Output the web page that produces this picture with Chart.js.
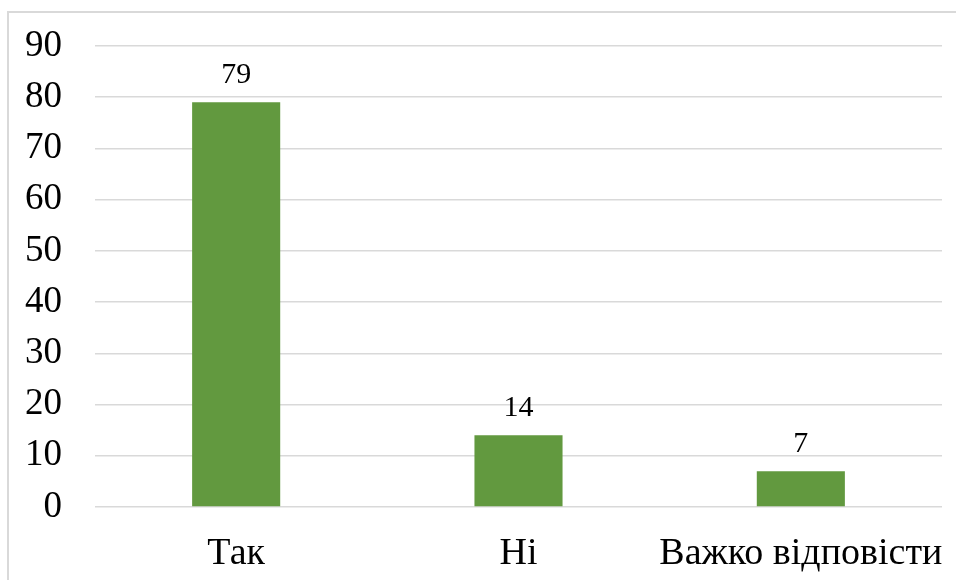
<!DOCTYPE html>
<html>
<head>
<meta charset="utf-8">
<script src="https://cdn.jsdelivr.net/npm/chart.js@4"></script>
<style>
  html, body { margin: 0; padding: 0; background: #ffffff; }
  #wrap { width: 956px; height: 580px; position: relative; }
</style>
</head>
<body>
<div id="wrap"><canvas id="chart" width="956" height="580"></canvas></div>
<script>
// Answers and their shares
const categories = ['Так', 'Ні', 'Важко відповісти'];
const values = [79, 14, 7];
const yTicks = [0, 10, 20, 30, 40, 50, 60, 70, 80, 90];

const FONT = "'Liberation Serif', 'Times New Roman', serif";
const BAR_COLOR = '#62993f';
const GRID_COLOR = '#d9d9d9';

// Light frame on the top and left edge of the canvas
const framePlugin = {
  id: 'frame',
  beforeDraw(chart) {
    const ctx = chart.ctx;
    ctx.save();
    ctx.strokeStyle = '#d9d9d9';
    ctx.lineWidth = 2;
    ctx.beginPath();
    ctx.moveTo(8, chart.height);
    ctx.lineTo(8, 12);
    ctx.lineTo(chart.width, 12);
    ctx.stroke();
    ctx.restore();
  }
};

// Value labels above each bar
const valueLabels = {
  id: 'valueLabels',
  afterDatasetsDraw(chart) {
    const ctx = chart.ctx;
    const meta = chart.getDatasetMeta(0);
    ctx.save();
    ctx.font = '30px ' + FONT;
    ctx.fillStyle = '#000000';
    ctx.textAlign = 'center';
    ctx.textBaseline = 'alphabetic';
    meta.data.forEach((bar, i) => {
      ctx.fillText(String(chart.data.datasets[0].data[i]), bar.x, bar.y - 19);
    });
    ctx.restore();
  }
};

// Keep the plot area fixed by the layout padding alone
function noEdgePadding(scale) {
  scale.paddingTop = 0;
  scale.paddingBottom = 0;
  scale.paddingLeft = 0;
  scale.paddingRight = 0;
}

new Chart(document.getElementById('chart'), {
  type: 'bar',
  data: {
    labels: categories,
    datasets: [{
      data: values,
      backgroundColor: BAR_COLOR,
      borderWidth: 0,
      categoryPercentage: 1,
      barPercentage: 0.312
    }]
  },
  options: {
    responsive: false,
    animation: false,
    devicePixelRatio: 1,
    layout: { padding: { top: 46, right: 14, bottom: 0, left: 0 } },
    plugins: {
      legend: { display: false },
      tooltip: { enabled: false }
    },
    scales: {
      x: {
        grid: { display: false, drawTicks: false },
        border: { display: false },
        ticks: {
          color: '#000000',
          font: { family: FONT, size: 38 },
          padding: 24,
          maxRotation: 0,
          autoSkip: false
        },
        afterFit(scale) { scale.height = 73; noEdgePadding(scale); }
      },
      y: {
        min: 0,
        max: 90,
        afterBuildTicks(scale) { scale.ticks = yTicks.map(v => ({ value: v })); },
        grid: { color: GRID_COLOR, lineWidth: 1.5, drawTicks: false },
        border: { display: false },
        ticks: {
          color: '#000000',
          font: { family: FONT, size: 37 },
          padding: 33
        },
        afterFit(scale) { scale.width = 95; noEdgePadding(scale); }
      }
    }
  },
  plugins: [framePlugin, valueLabels]
});
</script>
</body>
</html>
